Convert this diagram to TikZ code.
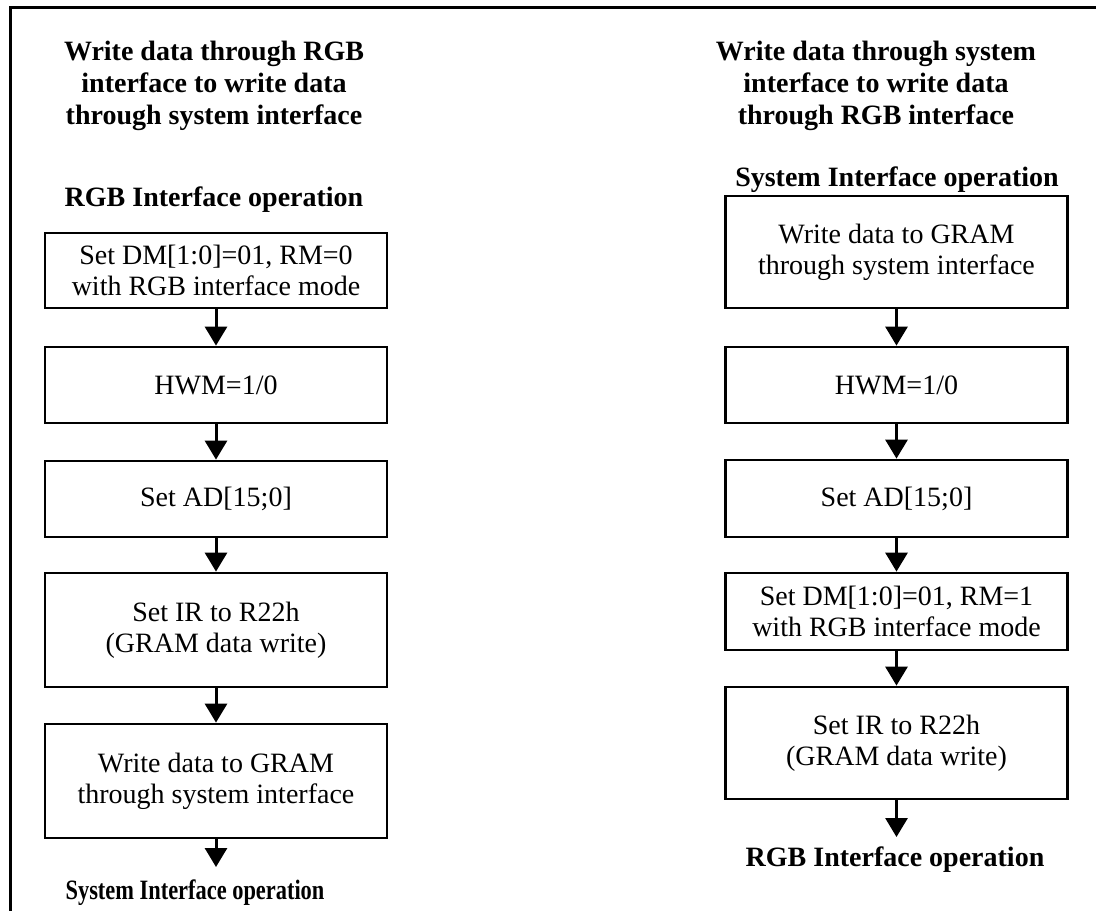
\documentclass[tikz,border=0pt]{standalone}
\usepackage{fontspec}
\setmainfont{Liberation Serif}
\usetikzlibrary{arrows.meta}
\begin{document}
\begin{tikzpicture}[x=1pt,y=-1pt,
  stepbox/.style={draw,line width=2.8pt,minimum width=342pt,inner sep=0pt,align=center,
     font=\fontsize{28}{31}\selectfont},
  flow/.style={line width=3pt,-{Triangle[width=22pt,length=19pt]}},
  title/.style={align=center,inner sep=0pt,font=\fontsize{28}{32}\selectfont\bfseries}]
\clip (0,0) rectangle (1096,911);
\fill[white] (0,0) rectangle (1096,911);
\draw[line width=3pt] (10,7) rectangle (1120,940);

% left column
\node[title] (lt) at (214,86) {Write data through RGB\\interface to write data\\through system interface};
\node[title] (lstart) at (214,200) {RGB Interface operation};
\node[stepbox,minimum height=75pt] (l1) at (216,270.5) {Set DM[1:0]=01, RM=0\\with RGB interface mode};
\node[stepbox,minimum height=76pt] (l2) at (216,385) {HWM=1/0};
\node[stepbox,minimum height=76pt] (l3) at (216,499) {Set AD[15;0]};
\node[stepbox,minimum height=114pt] (l4) at (216,630) {Set IR to R22h\\(GRAM data write)};
\node[stepbox,minimum height=114pt] (l5) at (216,781) {Write data to GRAM\\through system interface};
\coordinate (lend) at (216,867);
\node[title] (lfinal) at (195,893) {\scalebox{0.8}[1]{System Interface operation}};
\draw[flow] (l1) -- (l2);
\draw[flow] (l2) -- (l3);
\draw[flow] (l3) -- (l4);
\draw[flow] (l4) -- (l5);
\draw[flow] (l5) -- (lend);

% right column
\node[title] (rt) at (876,86) {Write data through system\\interface to write data\\through RGB interface};
\node[title] (rstart) at (897,180) {System Interface operation};
\node[stepbox,minimum height=112pt] (r1) at (896.5,252) {Write data to GRAM\\through system interface};
\node[stepbox,minimum height=76pt] (r2) at (896.5,385) {HWM=1/0};
\node[stepbox,minimum height=77pt] (r3) at (896.5,498.5) {Set AD[15;0]};
\node[stepbox,minimum height=77pt] (r4) at (896.5,611.5) {Set DM[1:0]=01, RM=1\\with RGB interface mode};
\node[stepbox,minimum height=112pt] (r5) at (896.5,743) {Set IR to R22h\\(GRAM data write)};
\coordinate (rend) at (896.5,837);
\node[title] (rfinal) at (895,860) {RGB Interface operation};
\draw[flow] (r1) -- (r2);
\draw[flow] (r2) -- (r3);
\draw[flow] (r3) -- (r4);
\draw[flow] (r4) -- (r5);
\draw[flow] (r5) -- (rend);
\end{tikzpicture}
\end{document}
